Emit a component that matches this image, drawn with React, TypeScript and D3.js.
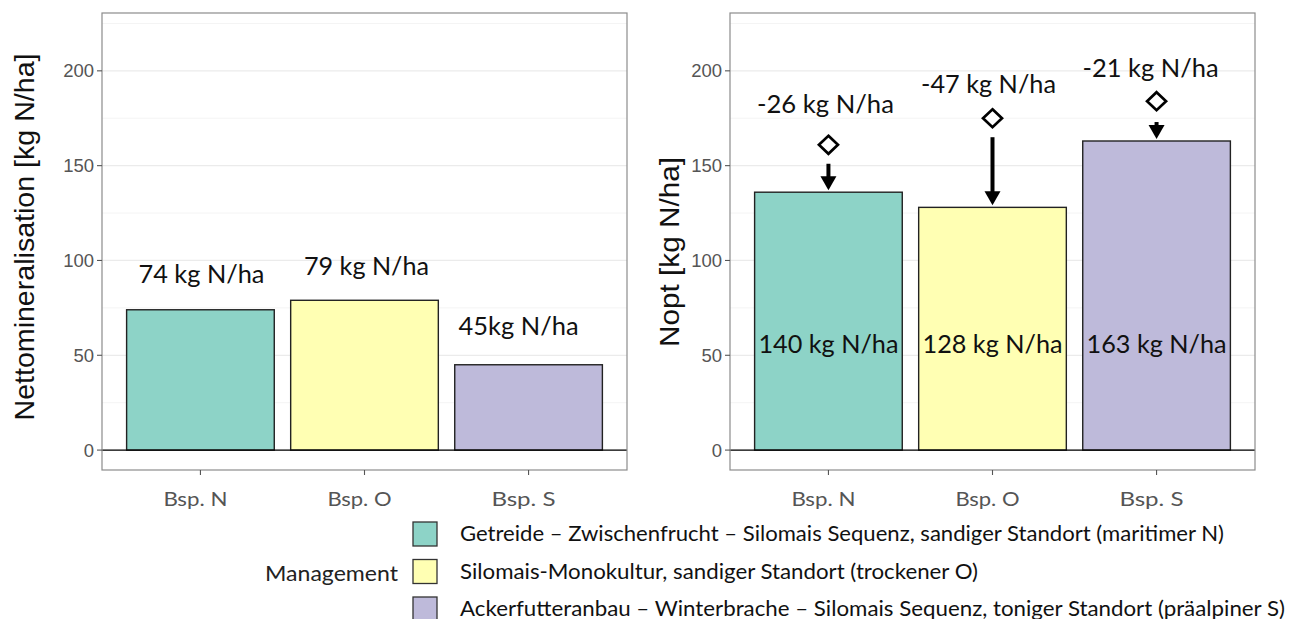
import React from "react";
import * as d3 from "d3";

// ---------- data ----------
const categories = ["Bsp. N", "Bsp. O", "Bsp. S"];
const nettoMineralisation = [74, 79, 45];
const noptValues = [136, 128, 163];
const noptReference = [161, 175, 184]; // diamonds
const arrowStartValues = [151, 165, 173];
const leftLabels = ["74 kg N/ha", "79 kg N/ha", "45kg N/ha"];
const leftLabelValues = [88, 92.5, 60.7];
const leftLabelNudge = [1, 2, -10];
const diffLabels = ["-26 kg N/ha", "-47 kg N/ha", "-21 kg N/ha"];
const diffLabelValues = [178, 188.5, 197];
const diffLabelNudge = [-3, -4, -6];
const barLabels = ["140 kg N/ha", "128 kg N/ha", "163 kg N/ha"];
const barLabelValue = 51.2;
const yTicks = [0, 50, 100, 150, 200];
const yMinorTicks = [25, 75, 125, 175, 225];
const colors = ["#8DD3C7", "#FFFFB3", "#BEBADA"];
const legendTitle = "Management";
const legendLabels = [
  "Getreide – Zwischenfrucht – Silomais Sequenz, sandiger Standort (maritimer N)",
  "Silomais-Monokultur, sandiger Standort (trockener O)",
  "Ackerfutteranbau  – Winterbrache – Silomais Sequenz, toniger Standort (präalpiner S)",
];
const legendWidths = [764, 518, 825];

const W = 1290;
const H = 619;
const top = 13;
const bottom = 470;
const y = d3.scaleLinear().domain([-10.5, 230.5]).range([bottom, top]);

const labelFont = "Lato, 'Open Sans', sans-serif";
const axisFont = "'Liberation Sans', Arial, sans-serif";

function Panel({
  x0,
  x1,
  values,
  title,
  titleX,
  titleY,
  titleLen,
  children,
}: {
  x0: number;
  x1: number;
  values: number[];
  title: string;
  titleX: number;
  titleY: number;
  titleLen: number;
  children?: (x: d3.ScaleBand<string>) => React.ReactNode;
}) {
  const x = d3
    .scaleBand<string>()
    .domain(categories)
    .range([x0, x1])
    .paddingInner(0.1)
    .paddingOuter(0.15);
  return (
    <g>
      {/* grid */}
      {yMinorTicks.map((t) => (
        <line key={"mi" + t} x1={x0} x2={x1} y1={y(t)} y2={y(t)} stroke="#f4f4f4" strokeWidth={1} />
      ))}
      {yTicks.map((t) => (
        <line key={"ma" + t} x1={x0} x2={x1} y1={y(t)} y2={y(t)} stroke="#ebebeb" strokeWidth={1.3} />
      ))}
      {/* bars */}
      {categories.map((c, i) => (
        <rect
          key={c}
          x={x(c)}
          y={y(values[i])}
          width={x.bandwidth()}
          height={y(0) - y(values[i])}
          fill={colors[i]}
          stroke="#222"
          strokeWidth={1.4}
        />
      ))}
      {/* zero line */}
      <line x1={x0} x2={x1} y1={y(0)} y2={y(0)} stroke="#000" strokeWidth={1.3} />
      {/* border */}
      <rect x={x0} y={top} width={x1 - x0} height={bottom - top} fill="none" stroke="#8c8c8c" strokeWidth={1.2} />
      {/* y axis */}
      {yTicks.map((t) => (
        <g key={"yt" + t}>
          <line x1={x0 - 5} x2={x0} y1={y(t)} y2={y(t)} stroke="#555" strokeWidth={1.1} />
          <text
            x={x0 - 8}
            y={y(t)}
            dy="0.35em"
            textAnchor="end"
            fontFamily={axisFont}
            fontSize={18.5}
            fill="#555"
          >
            {t}
          </text>
        </g>
      ))}
      {/* x axis */}
      {categories.map((c) => {
        const cx = (x(c) as number) + x.bandwidth() / 2;
        return (
          <g key={"xt" + c}>
            <line x1={cx} x2={cx} y1={bottom} y2={bottom + 5} stroke="#555" strokeWidth={1.1} />
            <text
              x={cx - 5}
              y={506}
              textAnchor="middle"
              fontFamily={labelFont}
              fontSize={20}
              fill="#555"
              textLength={64}
              lengthAdjust="spacingAndGlyphs"
            >
              {c}
            </text>
          </g>
        );
      })}
      {/* title */}
      <text
        transform={`translate(${titleX},${titleY}) rotate(-90)`}
        textAnchor="middle"
        fontFamily={axisFont}
        fontSize={28}
        fill="#111"
        textLength={titleLen}
        lengthAdjust="spacingAndGlyphs"
      >
        {title}
      </text>
      {children ? children(x) : null}
    </g>
  );
}

export default function App() {
  return (
    <svg
      width={W}
      height={H}
      viewBox={`0 0 ${W} ${H}`}
      style={{ position: "absolute", left: 0, top: 0, background: "#fff" }}
    >
      <rect x={0} y={0} width={W} height={H} fill="#fff" />
      <Panel
        x0={102}
        x1={627}
        values={nettoMineralisation}
        title="Nettomineralisation [kg N/ha]"
        titleX={34}
        titleY={237}
        titleLen={367}
      >
        {(x) =>
          categories.map((c, i) => (
            <text
              key={"ll" + c}
              x={(x(c) as number) + x.bandwidth() / 2 + leftLabelNudge[i]}
              y={y(leftLabelValues[i])}
              textAnchor="middle"
              fontFamily={labelFont}
              fontSize={25}
              fill="#111"
              textLength={[126, 125, 120][i]}
              lengthAdjust="spacingAndGlyphs"
            >
              {leftLabels[i]}
            </text>
          ))
        }
      </Panel>
      <Panel
        x0={730}
        x1={1255}
        values={noptValues}
        title="Nopt [kg N/ha]"
        titleX={679}
        titleY={252}
        titleLen={190}
      >
        {(x) =>
          categories.map((c, i) => {
            const cx = (x(c) as number) + x.bandwidth() / 2;
            const yd = y(noptReference[i]);
            const ys = y(arrowStartValues[i]);
            const ye = y(noptValues[i]) - 2;
            const head = 14;
            const hw = 8;
            return (
              <g key={"ann" + c}>
                <path
                  d={`M${cx},${yd - 9} L${cx + 9.5},${yd} L${cx},${yd + 9} L${cx - 9.5},${yd} Z`}
                  fill="#fff"
                  stroke="#000"
                  strokeWidth={2.7}
                />
                <line x1={cx} x2={cx} y1={ys} y2={ye - head + 1} stroke="#000" strokeWidth={4} />
                <path
                  d={`M${cx - hw},${ye - head} L${cx + hw},${ye - head} L${cx},${ye} Z`}
                  fill="#000"
                />
                <text
                  x={cx + diffLabelNudge[i]}
                  y={y(diffLabelValues[i])}
                  textAnchor="middle"
                  fontFamily={labelFont}
                  fontSize={25}
                  fill="#111"
                  textLength={[137, 135, 136][i]}
                  lengthAdjust="spacingAndGlyphs"
                >
                  {diffLabels[i]}
                </text>
                <text
                  x={cx}
                  y={y(barLabelValue)}
                  textAnchor="middle"
                  fontFamily={labelFont}
                  fontSize={25}
                  fill="#111"
                  textLength={140}
                  lengthAdjust="spacingAndGlyphs"
                >
                  {barLabels[i]}
                </text>
              </g>
            );
          })
        }
      </Panel>
      {/* legend */}
      <text
        x={265}
        y={581}
        fontFamily={labelFont}
        fontSize={22}
        fill="#222"
        textLength={133}
        lengthAdjust="spacingAndGlyphs"
      >
        {legendTitle}
      </text>
      {legendLabels.map((l, i) => (
        <g key={"lg" + i}>
          <rect
            x={413}
            y={522 + i * 37.5}
            width={24}
            height={24}
            fill={colors[i]}
            stroke="#333"
            strokeWidth={1.3}
          />
          <text
            x={460}
            y={541 + i * 37.5}
            fontFamily={labelFont}
            fontSize={21}
            fill="#111"
            textLength={legendWidths[i]}
            lengthAdjust="spacingAndGlyphs"
          >
            {l}
          </text>
        </g>
      ))}
    </svg>
  );
}
